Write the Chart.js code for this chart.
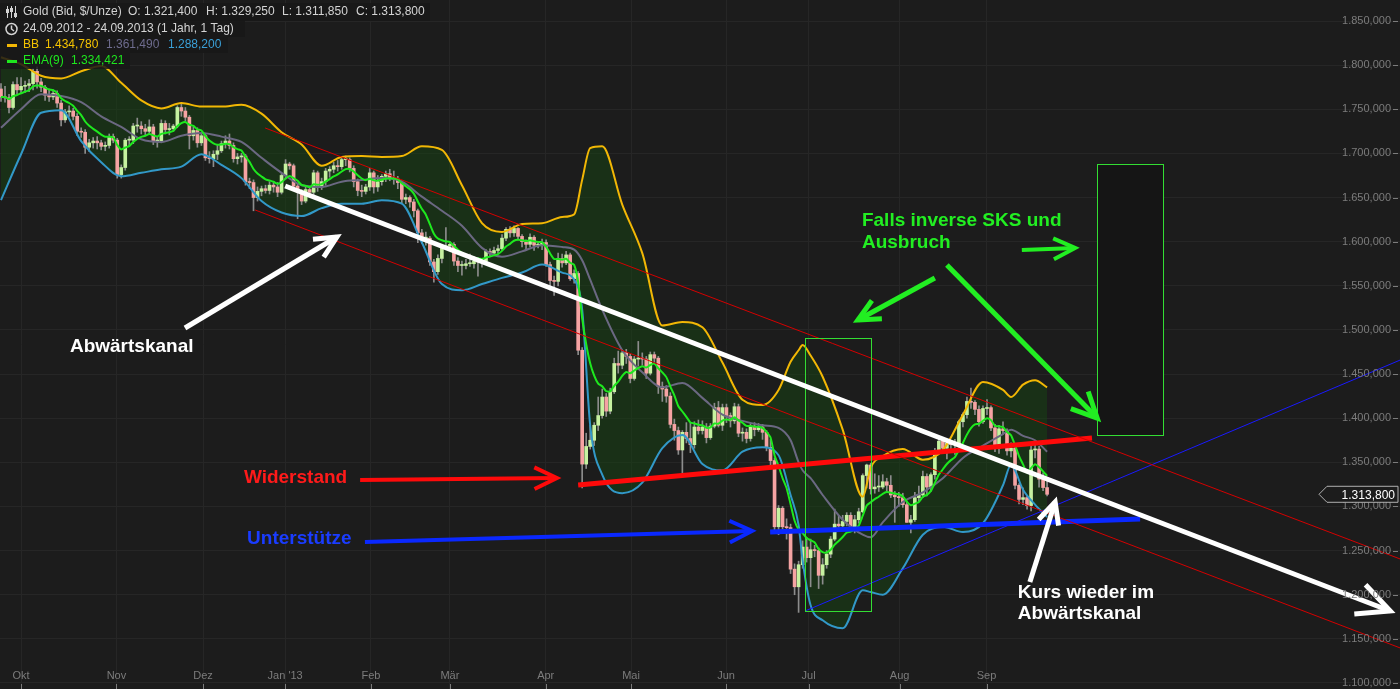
<!DOCTYPE html>
<html>
<head>
<meta charset="utf-8">
<script src="https://cdn.jsdelivr.net/npm/chart.js@4.4.0/dist/chart.umd.min.js"></script>
<style>
html, body { margin: 0; padding: 0; background: #1c1c1c; }
#wrap { width: 1400px; height: 689px; position: relative; }
</style>
</head>
<body>
<div id="wrap"><canvas id="goldChart"></canvas></div>
<script>
// Tageskerzen 24.09.2012 - 24.09.2013 (eine Zeile = eine Woche)
const opens = [
  1773,1764,1763,1752,1778, 1772,1776,1777,1779,1793, 1781,1775,1766,1764,1768, 1757,1738,1747,1748,1742,
  1725,1724,1707,1712,1714, 1712,1708,1709,1719,1715, 1676,1684,1715,1715,1731, 1731,1728,1725,1730,1714,
  1714,1734,1727,1728,1731, 1752,1748,1741,1720,1726, 1712,1720,1695,1694,1699, 1703,1711,1714,1709,1694,
  1696,1697,1668,1667,1650, 1657,1660,1658,1664,1662, 1656,1675,1688,1686,1663, 1656,1646,1659,1656,1678,
  1662,1668,1680,1682,1686, 1685,1693,1693,1683,1668, 1658,1657,1662,1678,1662, 1668,1674,1677,1672,1671,
  1667,1648,1650,1645,1635, 1610,1604,1604,1577,1566, 1581,1594,1595,1597,1578, 1573,1573,1575,1575,1578,
  1577,1578,1589,1587,1590, 1592,1604,1614,1610,1615, 1606,1600,1597,1605,1596, 1596,1599,1574,1556,1555,
  1581,1576,1585,1558,1564, 1477,1348,1368,1375,1392, 1403,1424,1408,1430,1462, 1460,1474,1470,1445,1467,
  1468,1467,1451,1472,1468, 1436,1433,1425,1393,1386, 1364,1384,1377,1370,1390, 1386,1390,1378,1391,1412,
  1392,1412,1403,1397,1413, 1383,1384,1377,1391,1387, 1390,1384,1367,1352,1277, 1298,1277,1276,1229,1209,
  1234,1254,1242,1251,1250, 1222,1234,1246,1263,1280, 1278,1283,1290,1276,1285, 1294,1335,1347,1320,1322,
  1322,1328,1324,1313,1311, 1310,1302,1282,1285,1310, 1313,1334,1322,1336,1363, 1374,1366,1372,1370,1370,
  1396,1404,1419,1418,1410, 1396,1411,1412,1389,1366, 1388,1386,1363,1366,1324, 1308,1310,1301,1364,1365,
  1331,1321.4
];
const highs = [
  1779,1776,1767,1781,1786, 1786,1782,1784,1796,1798, 1785,1777,1773,1772,1771, 1760,1750,1754,1751,1745,
  1729,1727,1716,1718,1719, 1715,1713,1722,1722,1717, 1687,1717,1719,1734,1740, 1736,1733,1738,1733,1719,
  1738,1737,1734,1733,1754, 1756,1752,1743,1730,1729, 1723,1722,1702,1703,1710, 1714,1720,1722,1712,1700,
  1700,1699,1672,1670,1662, 1663,1664,1668,1667,1667, 1677,1693,1690,1688,1666, 1659,1663,1663,1681,1680,
  1672,1683,1685,1690,1692, 1696,1697,1695,1686,1671, 1664,1665,1683,1680,1675, 1676,1680,1682,1680,1674,
  1669,1654,1652,1648,1637, 1614,1611,1606,1580,1585, 1597,1616,1600,1599,1582, 1578,1580,1586,1583,1582,
  1581,1591,1592,1594,1596, 1608,1616,1617,1618,1616, 1608,1602,1609,1607,1599, 1603,1602,1577,1561,1587,
  1586,1589,1587,1568,1566, 1480,1383,1392,1395,1424, 1433,1428,1434,1468,1476, 1477,1478,1473,1470,1487,
  1474,1470,1475,1475,1470, 1441,1437,1429,1399,1390, 1386,1395,1395,1396,1398, 1397,1394,1394,1417,1419,
  1416,1416,1406,1417,1416, 1389,1388,1394,1395,1394, 1393,1386,1376,1355,1301, 1300,1286,1280,1235,1238,
  1261,1265,1263,1256,1253, 1241,1250,1266,1297,1290, 1290,1293,1293,1290,1298, 1337,1348,1349,1337,1335,
  1336,1332,1335,1317,1316, 1315,1306,1290,1316,1323, 1340,1337,1338,1366,1378, 1377,1373,1375,1376,1398,
  1406,1424,1434,1420,1414, 1414,1421,1414,1393,1392, 1396,1388,1372,1369,1326, 1321,1312,1369,1373,1368,
  1338,1329.25
];
const lows = [
  1759,1758,1746,1750,1767, 1768,1769,1770,1772,1774, 1770,1760,1759,1761,1752, 1731,1735,1742,1738,1720,
  1718,1700,1702,1706,1705, 1704,1703,1706,1712,1672, 1672,1681,1708,1711,1724, 1722,1720,1722,1710,1707,
  1712,1722,1721,1725,1729, 1742,1737,1705,1715,1707, 1709,1692,1689,1685,1693, 1701,1706,1705,1690,1688,
  1690,1664,1660,1635,1646, 1652,1655,1654,1656,1651, 1654,1671,1682,1661,1626, 1642,1644,1652,1653,1657,
  1659,1664,1673,1678,1680, 1682,1686,1679,1662,1652, 1651,1654,1658,1655,1657, 1664,1668,1669,1665,1660,
  1644,1643,1639,1628,1599, 1598,1596,1573,1554,1563, 1576,1591,1590,1573,1566, 1562,1569,1572,1570,1561,
  1571,1575,1583,1584,1587, 1590,1601,1605,1606,1603, 1594,1590,1594,1590,1593, 1591,1572,1545,1539,1550,
  1571,1574,1556,1553,1472, 1321,1343,1365,1369,1386, 1400,1402,1405,1428,1451, 1456,1462,1440,1443,1459,
  1460,1445,1449,1462,1428, 1419,1418,1389,1375,1359, 1338,1372,1361,1366,1382, 1382,1372,1376,1389,1390,
  1386,1395,1390,1394,1379, 1374,1372,1374,1380,1385, 1376,1363,1347,1270,1268, 1270,1263,1224,1200,1180,
  1230,1237,1209,1243,1207, 1212,1230,1242,1261,1274, 1275,1278,1272,1270,1281, 1293,1321,1314,1315,1317,
  1320,1316,1310,1282,1300, 1299,1282,1270,1283,1306, 1310,1312,1317,1331,1360, 1362,1354,1362,1359,1367,
  1390,1400,1411,1404,1391, 1394,1404,1386,1362,1360, 1382,1358,1356,1320,1303, 1302,1297,1295,1355,1322,
  1318,1311.85
];
const closes = [
  1764,1763,1752,1778,1772, 1776,1777,1779,1793,1781, 1775,1766,1764,1768,1757, 1738,1747,1748,1742,1725,
  1724,1707,1712,1714,1712, 1708,1709,1719,1715,1676, 1684,1715,1715,1731,1731, 1728,1725,1730,1714,1714,
  1734,1727,1728,1731,1752, 1748,1741,1720,1726,1712, 1720,1695,1694,1699,1703, 1711,1714,1709,1694,1696,
  1697,1668,1667,1650,1657, 1660,1658,1664,1662,1656, 1675,1688,1686,1663,1656, 1646,1659,1656,1678,1662,
  1668,1680,1682,1686,1685, 1693,1693,1683,1668,1658, 1657,1662,1678,1662,1668, 1674,1677,1672,1671,1667,
  1648,1650,1645,1635,1610, 1604,1604,1577,1566,1581, 1594,1595,1597,1578,1573, 1573,1575,1575,1578,1577,
  1578,1589,1587,1590,1592, 1604,1614,1610,1615,1606, 1600,1597,1605,1596,1596, 1599,1574,1556,1555,1581,
  1576,1585,1558,1564,1477, 1348,1368,1375,1392,1403, 1424,1408,1430,1462,1460, 1474,1470,1445,1467,1468,
  1467,1451,1472,1468,1436, 1433,1425,1393,1386,1364, 1384,1377,1370,1390,1386, 1390,1378,1391,1412,1392,
  1412,1403,1397,1413,1383, 1384,1377,1391,1387,1390, 1384,1367,1352,1277,1298, 1277,1276,1229,1209,1234,
  1254,1242,1251,1250,1222, 1234,1246,1263,1280,1278, 1283,1290,1276,1285,1294, 1335,1347,1320,1322,1322,
  1328,1324,1313,1311,1310, 1302,1282,1285,1310,1313, 1334,1322,1336,1363,1374, 1366,1372,1370,1370,1396,
  1404,1419,1418,1410,1396, 1411,1412,1389,1366,1388, 1386,1363,1366,1324,1308, 1310,1301,1364,1365,1331,
  1321.4,1313.8
];

const bbIdx = [0,5,10,15,20,25,30,35,40,45,50,55,60,65,70,75,80,85,90,95,100,105,110,115,120,125,130,135,140,
  143,145,147,150,155,160,165,170,175,180,185,190,194,197,199,200,202,205,210,215,217,220,225,230,235,240,245,250,252,255,258,261];
const bbUpper = [1809,1801,1788,1785,1793,1799,1780,1760,1751,1757,1753,1753,1755,1745,1724,1710,1686,1696,1697,1696,1697,
  1708,1704,1664,1621,1611,1620,1621,1628,1631,1670,1706,1708,1642,1587,1505,1509,1503,1463,1421,1415,1432,1464,1477,1483,
  1471,1447,1387,1311,1344,1357,1365,1353,1364,1404,1441,1432,1424,1438,1443,1435];
const bbMid = [1729,1750,1767,1765,1758,1742,1730,1716,1713,1720,1723,1719,1713,1695,1678,1664,1662,1668,1670,1672,1668,
  1651,1635,1618,1593,1583,1589,1596,1594,1591,1579,1557,1523,1477,1452,1435,1440,1423,1404,1397,1392,1389,1375,1350,1341,
  1332,1313,1285,1268,1265,1282,1305,1316,1332,1355,1369,1382,1387,1380,1375,1362];
const bbLower = [1647,1699,1746,1749,1714,1690,1674,1678,1682,1685,1699,1687,1672,1646,1633,1629,1638,1643,1643,1647,1643,
  1599,1552,1545,1552,1559,1565,1574,1565,1557,1523,1392,1336,1315,1327,1366,1381,1348,1341,1362,1367,1358,1313,1279,1239,
  1188,1171,1162,1205,1203,1200,1230,1268,1277,1271,1281,1324,1347,1319,1302,1288];

// Achsen
const monthPos = [5.0, 28.8, 50.4, 70.9, 92.3, 112.0, 135.9, 157.2, 180.9, 201.5, 224.2, 245.9];
const monthNames = ['Okt', 'Nov', 'Dez', "Jan '13", 'Feb', 'Mär', 'Apr', 'Mai', 'Jun', 'Jul', 'Aug', 'Sep'];
const yTicks = [1100,1150,1200,1250,1300,1350,1400,1450,1500,1550,1600,1650,1700,1750,1800,1850];

// eingezeichnete Linien [Index, Kurs]
const channelUpper = [[65.9, 1728.8], [349.1, 1240.5]];
const channelLower = [[63.4, 1635.9], [349.1, 1139.7]];
const resistance = [[144.0, 1324.3], [272.2, 1377.6]];
const support = [[191.9, 1271.1], [284.2, 1285.8]];
const supportThin = [[200.6, 1181.6], [349.1, 1465.9]];

const arrows = [
  { from: [70.9, 1663.1], to: [346.6, 1181.6], color: '#ffffff', width: 5, head: 36 },
  { from: [45.9, 1502.2], to: [83.8, 1605.3], color: '#ffffff', width: 5, head: 24 },
  { from: [256.7, 1214.4], to: [263.0, 1305.1], color: '#ffffff', width: 5, head: 24 },
  { from: [89.6, 1330.0], to: [138.7, 1332.3], color: '#ff0a0a', width: 4, head: 25 },
  { from: [90.8, 1259.8], to: [187.4, 1272.2], color: '#0a28ff', width: 4, head: 25 },
  { from: [254.7, 1590.6], to: [268.0, 1592.8], color: '#22ee22', width: 4, head: 24 },
  { from: [233.0, 1558.8], to: [213.8, 1511.3], color: '#22ee22', width: 5, head: 24 },
  { from: [236.0, 1573.6], to: [273.5, 1400.2], color: '#22ee22', width: 5, head: 28 }
];
const boxes = [
  { x: [200.6, 217.1], y: [1490.9, 1181.6], fill: null },
  { x: [273.5, 289.9], y: [1688.0, 1381.0], fill: '#151515' }
];
const notes = [
  { text: 'Abwärtskanal', at: [17.2, 1480.7], color: '#ffffff' },
  { text: 'Widerstand', at: [60.6, 1332.3], color: '#ff1a1a' },
  { text: 'Unterstütze', at: [61.4, 1263.2], color: '#1a3cff' },
  { text: 'Falls inverse SKS und', at: [214.8, 1623.4], color: '#22ee22' },
  { text: 'Ausbruch', at: [214.8, 1598.5], color: '#22ee22' },
  { text: 'Kurs wieder im', at: [253.7, 1202.0], color: '#ffffff' },
  { text: 'Abwärtskanal', at: [253.7, 1178.2], color: '#ffffff' }
];
const lastPrice = 1313.8;

function fmt(v) {
  const s = v.toFixed(3).split('.');
  return s[0].replace(/\B(?=(\d{3})+(?!\d))/g, '.') + ',' + s[1];
}

const bodies = closes.map((c, i) => ({ x: i, y: [opens[i], c] }));
const wicks = closes.map((c, i) => ({ x: i, y: [lows[i], highs[i]] }));
const ema9 = [];
closes.forEach((c, i) => {
  const prev = i ? ema9[i - 1].y : c;
  ema9.push({ x: i, y: prev + (c - prev) * 0.2 });
});
const band = vals => bbIdx.map((x, k) => ({ x: x, y: vals[k] }));
const seg = (pts, color, width) => ({
  type: 'line', data: pts.map(p => ({ x: p[0], y: p[1] })),
  borderColor: color, borderWidth: width, pointRadius: 0, fill: false, order: 0
});
const upColor = '#c6f2a0';
const downColor = '#f5a3a3';

const font = '"Liberation Sans", Arial, sans-serif';

const overlay = {
  id: 'overlay',
  beforeDraw(chart) {
    const ctx = chart.ctx;
    ctx.save();
    ctx.fillStyle = '#1c1c1c';
    ctx.fillRect(0, 0, chart.width, chart.height);
    ctx.restore();
  },
  beforeDatasetsDraw(chart) {
    const { ctx, scales: { x, y } } = chart;
    ctx.save();
    boxes.forEach(b => {
      if (!b.fill) return;
      const x1 = x.getPixelForValue(b.x[0]), x2 = x.getPixelForValue(b.x[1]);
      const y1 = y.getPixelForValue(b.y[0]), y2 = y.getPixelForValue(b.y[1]);
      ctx.fillStyle = b.fill;
      ctx.fillRect(x1, y1, x2 - x1, y2 - y1);
    });
    ctx.restore();
  },
  afterDatasetsDraw(chart) {
    const { ctx, scales: { x, y }, chartArea } = chart;
    ctx.save();

    // Rahmen
    ctx.strokeStyle = '#33dd33';
    ctx.lineWidth = 1;
    boxes.forEach(b => {
      const x1 = Math.round(x.getPixelForValue(b.x[0])) + 0.5, x2 = Math.round(x.getPixelForValue(b.x[1])) + 0.5;
      const y1 = Math.round(y.getPixelForValue(b.y[0])) + 0.5, y2 = Math.round(y.getPixelForValue(b.y[1])) + 0.5;
      ctx.strokeRect(x1, y1, x2 - x1, y2 - y1);
    });

    // Pfeile
    arrows.forEach(a => {
      const x1 = x.getPixelForValue(a.from[0]), y1 = y.getPixelForValue(a.from[1]);
      const x2 = x.getPixelForValue(a.to[0]), y2 = y.getPixelForValue(a.to[1]);
      const ang = Math.atan2(y2 - y1, x2 - x1);
      ctx.strokeStyle = a.color;
      ctx.lineWidth = a.width;
      ctx.lineCap = 'butt';
      ctx.beginPath();
      ctx.moveTo(x1, y1);
      ctx.lineTo(x2, y2);
      ctx.stroke();
      ctx.lineJoin = 'miter';
      ctx.beginPath();
      ctx.moveTo(x2 - a.head * Math.cos(ang - 0.45), y2 - a.head * Math.sin(ang - 0.45));
      ctx.lineTo(x2, y2);
      ctx.lineTo(x2 - a.head * Math.cos(ang + 0.45), y2 - a.head * Math.sin(ang + 0.45));
      ctx.stroke();
    });

    // Beschriftungen
    ctx.font = 'bold 19px ' + font;
    ctx.textAlign = 'left';
    ctx.textBaseline = 'middle';
    notes.forEach(n => {
      ctx.fillStyle = n.color;
      ctx.fillText(n.text, x.getPixelForValue(n.at[0]), y.getPixelForValue(n.at[1]));
    });

    // Preisachse
    ctx.font = '11px ' + font;
    ctx.fillStyle = '#7c7c7c';
    ctx.textAlign = 'right';
    yTicks.forEach(v => {
      const py = y.getPixelForValue(v);
      ctx.fillText(fmt(v), chartArea.right - 9, py);
      ctx.fillRect(chartArea.right - 7, Math.round(py), 5, 1);
    });

    // Zeitachse
    ctx.textAlign = 'center';
    monthPos.forEach((m, i) => {
      const px = x.getPixelForValue(m);
      ctx.fillStyle = '#7c7c7c';
      ctx.fillText(monthNames[i], px, chartArea.bottom - 13);
      ctx.fillRect(Math.round(px), chartArea.bottom - 5, 1, 5);
    });

    // Kursmarke
    const py = y.getPixelForValue(lastPrice);
    const r = chartArea.right - 2;
    ctx.beginPath();
    ctx.moveTo(r - 79, py);
    ctx.lineTo(r - 71, py - 8);
    ctx.lineTo(r, py - 8);
    ctx.lineTo(r, py + 8);
    ctx.lineTo(r - 71, py + 8);
    ctx.closePath();
    ctx.fillStyle = '#1c1c1c';
    ctx.fill();
    ctx.strokeStyle = '#b0b0b0';
    ctx.lineWidth = 1;
    ctx.stroke();
    ctx.fillStyle = '#ffffff';
    ctx.textAlign = 'right';
    ctx.font = '12px ' + font;
    ctx.fillText(fmt(lastPrice), r - 3, py + 1);

    // Kopfzeilen
    ctx.fillStyle = 'rgba(24,24,24,0.85)';
    ctx.fillRect(0, 3, 430, 18);
    ctx.fillRect(0, 20, 245, 17);
    ctx.fillRect(0, 37, 228, 16);
    ctx.fillRect(0, 53, 130, 16);
    ctx.font = '12px ' + font;
    ctx.textAlign = 'left';
    ctx.fillStyle = '#d4d4d4';
    ctx.fillText('Gold (Bid, $/Unze)', 23, 12);
    ctx.fillText('O: 1.321,400', 128, 12);
    ctx.fillText('H: 1.329,250', 206, 12);
    ctx.fillText('L: 1.311,850', 282, 12);
    ctx.fillText('C: 1.313,800', 356, 12);
    ctx.fillText('24.09.2012 - 24.09.2013 (1 Jahr, 1 Tag)', 23, 29);
    ctx.fillStyle = '#f2b705';
    ctx.fillRect(7, 44, 10, 3);
    ctx.fillStyle = '#f5c400';
    ctx.fillText('BB', 23, 45);
    ctx.fillText('1.434,780', 45, 45);
    ctx.fillStyle = '#6e6c8e';
    ctx.fillText('1.361,490', 106, 45);
    ctx.fillStyle = '#3aa0d8';
    ctx.fillText('1.288,200', 168, 45);
    ctx.fillStyle = '#1ee81e';
    ctx.fillRect(7, 60, 10, 3);
    ctx.fillText('EMA(9)', 23, 61);
    ctx.fillText('1.334,421', 71, 61);

    // Symbole
    ctx.strokeStyle = '#d4d4d4';
    ctx.fillStyle = '#d4d4d4';
    ctx.lineWidth = 1;
    [7.5, 11.5, 15.5].forEach((cx, k) => {
      ctx.beginPath();
      ctx.moveTo(cx, 6);
      ctx.lineTo(cx, 18);
      ctx.stroke();
      ctx.fillRect(cx - 1.5, 9 + k * 2 - (k === 1 ? 3 : 0), 3, 4);
    });
    ctx.beginPath();
    ctx.arc(11.5, 29, 5.5, 0, Math.PI * 2);
    ctx.moveTo(11.5, 25.5);
    ctx.lineTo(11.5, 29);
    ctx.lineTo(14, 31);
    ctx.lineWidth = 1.5;
    ctx.stroke();

    ctx.restore();
  }
};

const chart = new Chart(document.getElementById('goldChart').getContext('2d'), {
  type: 'line',
  data: {
    datasets: [
      seg(channelUpper, '#d40000', 1),
      seg(channelLower, '#d40000', 1),
      seg(supportThin, '#1a1aff', 1),
      seg(resistance, '#ff0a0a', 5),
      seg(support, '#0a28ff', 5),
      {
        label: 'EMA(9)', data: ema9, borderColor: '#1ee81e', borderWidth: 2,
        pointRadius: 0, tension: 0.2, fill: false, order: 1
      },
      {
        label: 'BB oben', data: band(bbUpper), borderColor: '#f2b705', borderWidth: 2,
        pointRadius: 0, cubicInterpolationMode: 'monotone',
        fill: '+2', backgroundColor: 'rgba(22,68,18,0.5)', order: 2
      },
      {
        label: 'BB Mitte', data: band(bbMid), borderColor: '#6b6882', borderWidth: 2,
        pointRadius: 0, cubicInterpolationMode: 'monotone', fill: false, order: 2
      },
      {
        label: 'BB unten', data: band(bbLower), borderColor: '#3298c8', borderWidth: 2,
        pointRadius: 0, cubicInterpolationMode: 'monotone', fill: false, order: 2
      },
      {
        type: 'bar', label: 'Körper', data: bodies, grouped: false, barThickness: 3, minBarLength: 1,
        backgroundColor: ctx => closes[ctx.dataIndex] >= opens[ctx.dataIndex] ? upColor : downColor,
        order: 3
      },
      {
        type: 'bar', label: 'Docht', data: wicks, grouped: false, barThickness: 1,
        backgroundColor: '#8c8c8c', order: 4
      }
    ]
  },
  options: {
    responsive: true,
    maintainAspectRatio: false,
    animation: false,
    events: [],
    layout: { padding: 0 },
    scales: {
      x: {
        type: 'linear', min: -0.25, max: 349.05, offset: false,
        grid: { color: '#262626', drawTicks: false, offset: false },
        border: { display: false },
        ticks: { display: false },
        afterBuildTicks: s => { s.ticks = monthPos.map(v => ({ value: v })); },
        afterFit: s => { s.height = 0; }
      },
      y: {
        type: 'linear', position: 'right', min: 1093.2, max: 1873.8,
        grid: { color: '#262626', drawTicks: false },
        border: { display: false },
        ticks: { display: false },
        afterBuildTicks: s => { s.ticks = yTicks.map(v => ({ value: v })); },
        afterFit: s => { s.width = 0; }
      }
    },
    plugins: {
      legend: { display: false },
      tooltip: { enabled: false },
      filler: { drawTime: 'beforeDatasetsDraw' }
    }
  },
  plugins: [overlay]
});
</script>
</body>
</html>
